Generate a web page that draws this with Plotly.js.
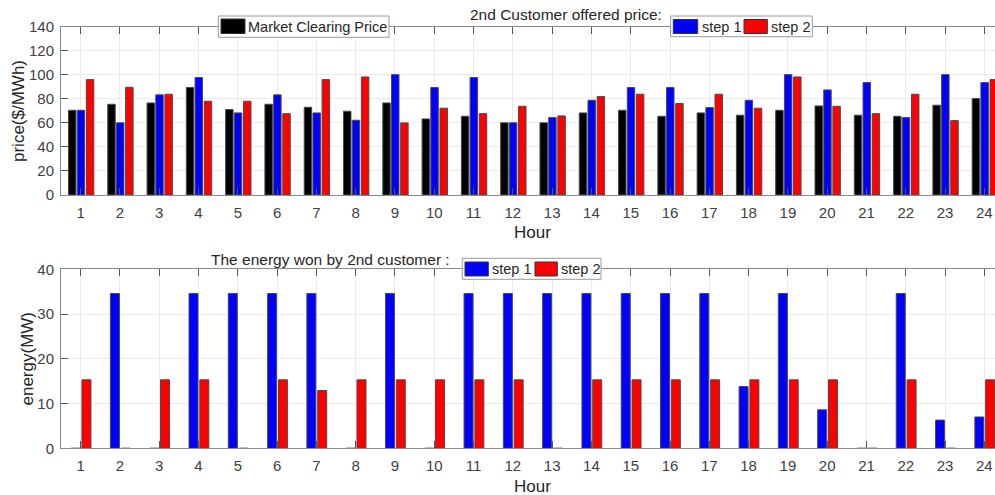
<!DOCTYPE html>
<html>
<head>
<meta charset="utf-8">
<script src="https://cdn.plot.ly/plotly-3.0.1.min.js"></script>
<style>
  html, body { margin: 0; padding: 0; overflow: hidden; background: #fff; }
  #chart { width: 1010px; height: 495px; }
</style>
</head>
<body>
<div id="chart"></div>
<script>
// ---- data ----
const hours = [1,2,3,4,5,6,7,8,9,10,11,12,13,14,15,16,17,18,19,20,21,22,23,24];
const marketClearingPrice = [70.4,75.4,76.5,89.3,71.0,75.4,72.9,69.6,76.5,63.2,65.4,60.0,60.0,68.2,70.4,65.4,68.2,66.3,70.4,74.0,66.3,65.4,74.6,80.1];
const offerStep1 = [70.4,60.0,83.2,97.6,68.2,83.2,68.2,62.1,100.0,89.3,97.6,60.0,64.3,78.7,89.3,89.3,72.6,78.7,100.0,87.3,93.4,64.3,100.0,93.4];
const offerStep2 = [95.9,89.5,83.7,77.9,77.9,67.6,95.9,98.1,59.9,72.1,67.6,73.7,65.7,81.8,83.7,76.0,83.7,72.1,98.1,73.7,67.6,83.7,61.8,95.9];
const energyStep1 = [0,34.6,0,34.6,34.6,34.6,34.6,0,34.6,0,34.6,34.6,34.6,34.6,34.6,34.6,34.6,13.8,34.6,8.6,0,34.6,6.3,7.0];
const energyStep2 = [15.3,0,15.3,15.3,0,15.3,12.9,15.3,15.3,15.3,15.3,15.3,0,15.3,15.3,15.3,15.3,15.3,15.3,15.3,0,15.3,0,15.3];
const labels = {
  top: "2nd Customer offered price:",
  bottom: "The energy won by 2nd customer :",
  mcp: "Market Clearing Price",
  s1: "step 1",
  s2: "step 2",
  xTitle: "Hour",
  yTop: "price($/MWh)",
  yBottom: "energy(MW)"
};

// ---- geometry helpers (page pixels -> paper) ----
const W = 1010, H = 495, ML = 61, MR = 6;
const PW = W - ML - MR;
const px = x => (x - ML) / PW;
const py = y => 1 - y / H;

const FONT = "Liberation Sans, Arial, Helvetica, sans-serif";
const TXT = "#262626";
const edge = { color: "#4a4a4a", width: 1 };

const traces = [
  { type: "bar", x: hours, y: marketClearingPrice, xaxis: "x", yaxis: "y", name: labels.mcp,
    marker: { color: "#000000", line: edge }, width: 0.19, offset: -0.31, showlegend: false },
  { type: "bar", x: hours, y: offerStep1, xaxis: "x", yaxis: "y", name: labels.s1,
    marker: { color: "#0000ff", line: edge }, width: 0.19, offset: -0.088, showlegend: false },
  { type: "bar", x: hours, y: offerStep2, xaxis: "x", yaxis: "y", name: labels.s2,
    marker: { color: "#ff0000", line: edge }, width: 0.19, offset: 0.145, showlegend: false },
  { type: "bar", x: hours, y: energyStep1, xaxis: "x2", yaxis: "y2", name: labels.s1,
    marker: { color: "#0000ff", line: edge }, width: 0.229, offset: -0.242, showlegend: false },
  { type: "bar", x: hours, y: energyStep2, xaxis: "x2", yaxis: "y2", name: labels.s2,
    marker: { color: "#ff0000", line: edge }, width: 0.229, offset: 0.033, showlegend: false }
];

function xAxis(anchor) {
  return {
    anchor: anchor, domain: [0, 1], range: [0.5, 24.5],
    tickmode: "array", tickvals: hours, ticktext: hours.map(String),
    ticks: "inside", ticklen: 7, tickwidth: 1, tickcolor: "#555",
    showline: true, linecolor: "#8a8a8a", linewidth: 1, mirror: "ticks",
    showgrid: true, gridcolor: "#ebebeb", zeroline: false,
    tickfont: { family: FONT, size: 15, color: "#404040" },
    ticklabelstandoff: 4, fixedrange: true
  };
}
function yAxis(anchor, domain, range, dtick) {
  return {
    anchor: anchor, domain: domain, range: range, dtick: dtick, tick0: 0,
    ticks: "inside", ticklen: 7, tickwidth: 1, tickcolor: "#555",
    showline: true, linecolor: "#8a8a8a", linewidth: 1, mirror: "ticks",
    showgrid: true, gridcolor: "#ebebeb", zeroline: false,
    tickfont: { family: FONT, size: 15, color: "#404040" },
    ticklabelstandoff: 3, fixedrange: true
  };
}

const shapes = [];
const annotations = [];
function legendBox(x0, y0, x1, y1) {
  shapes.push({ type: "rect", xref: "paper", yref: "paper",
    x0: px(x0), x1: px(x1), y0: py(y1), y1: py(y0),
    fillcolor: "#ffffff", line: { color: "#9a9a9a", width: 1 }, layer: "above" });
}
function swatch(x0, y0, x1, y1, color) {
  shapes.push({ type: "rect", xref: "paper", yref: "paper",
    x0: px(x0), x1: px(x1), y0: py(y1), y1: py(y0),
    fillcolor: color, line: { color: "#333", width: 1 }, layer: "above" });
}
function text(t, x, y, size, xanchor, angle) {
  annotations.push({ text: t, xref: "paper", yref: "paper", x: px(x), y: py(y),
    xanchor: xanchor || "left", yanchor: "middle", showarrow: false,
    textangle: angle || 0, font: { family: FONT, size: size, color: TXT } });
}

// titles
text(labels.top, 566, 14.5, 15.5, "center");
text(labels.bottom, 330.5, 259.5, 15.5, "center");
// axis titles
text(labels.xTitle, 532.5, 233, 17, "center");
text(labels.xTitle, 532.5, 486, 17, "center");
text(labels.yTop, 18.5, 111.5, 17, "center", -90);
text(labels.yBottom, 26.5, 359, 17, "center", -90);

// legend 1 (top, MCP)
legendBox(218.3, 16, 389, 37.3);
swatch(221, 19, 245, 33.5, "#000000");
text(labels.mcp, 246, 26.8, 14.5, "left");
// legend 2 (top, steps)
legendBox(670.7, 16, 812.3, 36.7);
swatch(673.3, 19.5, 697.7, 33.5, "#0000ff");
text(labels.s1, 699.5, 26.5, 14.5, "left");
swatch(744, 19.5, 767.3, 33.5, "#ff0000");
text(labels.s2, 768.5, 26.5, 14.5, "left");
// legend 3 (bottom, steps)
legendBox(462.3, 258.3, 601, 279.3);
swatch(465, 262, 488.3, 276, "#0000ff");
text(labels.s1, 489.5, 269, 14.5, "left");
swatch(535, 262, 557.3, 276, "#ff0000");
text(labels.s2, 558.5, 269, 14.5, "left");

const layout = {
  width: W, height: H,
  margin: { l: ML, r: MR, t: 0, b: 0, pad: 0 },
  paper_bgcolor: "#ffffff", plot_bgcolor: "#ffffff",
  font: { family: FONT, color: TXT },
  barmode: "overlay",
  showlegend: false,
  xaxis: xAxis("y"),
  yaxis: yAxis("x", [py(195), py(26.5)], [0, 140], 20),
  xaxis2: xAxis("y2"),
  yaxis2: yAxis("x2", [py(448.3), py(269.3)], [0, 40], 10),
  shapes: shapes,
  annotations: annotations
};

Plotly.newPlot("chart", traces, layout, { displayModeBar: false, staticPlot: true });
</script>
</body>
</html>
